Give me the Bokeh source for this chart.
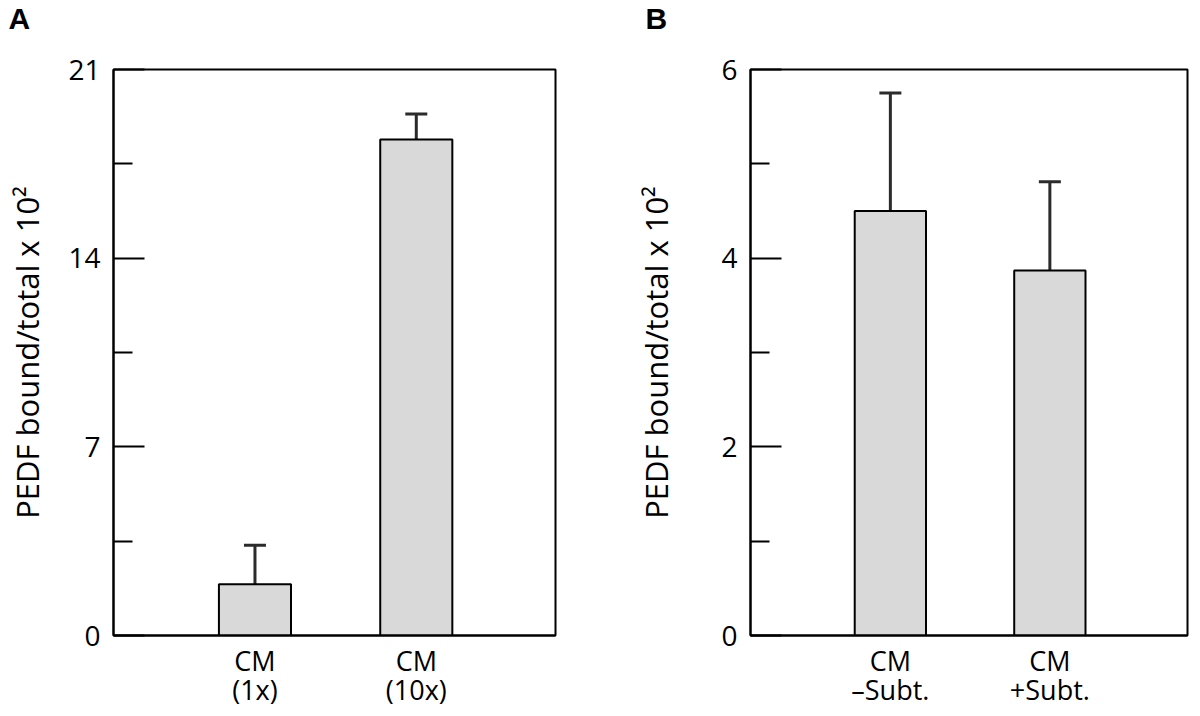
from bokeh.plotting import figure
from bokeh.layouts import row
from bokeh.models import ColumnDataSource, Whisker, TeeHead, FixedTicker, Range1d
from bokeh.embed import file_html
from bokeh.resources import INLINE

# Panel A data
a_labels = ["CM\n(1x)", "CM\n(10x)"]
a_values = [1.9, 18.4]
a_errors = [1.45, 0.95]
a_ticks = [0, 7, 14, 21]
a_minor = [3.5, 10.5, 17.5]

# Panel B data
b_labels = ["CM\n\u2013Subt.", "CM\n+Subt."]
b_values = [4.5, 3.87]
b_errors = [1.25, 0.94]
b_ticks = [0, 2, 4, 6]
b_minor = [1, 3, 5]

y_title = "PEDF bound/total x 10\u00b2"
FONT = "Open Sans"


def make_panel(letter, labels, values, errors, ticks, minor, fw, bl, br, standoff):
    xs = list(range(1, len(values) + 1))
    src = ColumnDataSource(dict(x=xs, top=values,
                                upper=[v + e for v, e in zip(values, errors)]))
    p = figure(frame_width=fw, frame_height=566, output_backend="svg", toolbar_location=None,
               x_range=Range1d(0.123, 2.863), y_range=Range1d(ticks[0], ticks[-1]),
               min_border_left=bl, min_border_right=br, min_border_top=69,
               min_border_bottom=10, title=letter + "\n")
    p.title.text_font = "Liberation Sans"
    p.title.text_font_size = "30px"
    p.title.text_font_style = "bold"
    p.title.text_color = "black"
    p.title.text_line_height = 1.0
    p.title.align = "left"
    p.title.vertical_align = "top"
    p.title.offset = -105
    p.title.standoff = 0
    p.grid.visible = False
    p.outline_line_color = "black"
    p.outline_line_width = 2
    p.outline_line_alpha = 1
    p.background_fill_color = "white"
    p.border_fill_color = "white"

    w = Whisker(base="x", lower="top", upper="upper", source=src,
                line_color="#2b2b2b", line_width=3,
                upper_head=TeeHead(size=22, line_color="#2b2b2b", line_width=3),
                lower_head=None, level="underlay")
    p.add_layout(w)
    p.vbar(x="x", top="top", bottom=0, width=0.447, source=src,
           fill_color="#d9d9d9", line_color="black", line_width=2)

    p.yaxis.ticker = FixedTicker(ticks=ticks, minor_ticks=minor)
    p.yaxis.major_tick_in = 31
    p.yaxis.major_tick_out = 0
    p.yaxis.minor_tick_in = 19
    p.yaxis.minor_tick_out = 0
    p.yaxis.major_tick_line_width = 2
    p.yaxis.minor_tick_line_width = 2
    p.yaxis.axis_line_width = 2
    p.yaxis.major_label_text_font = FONT
    p.yaxis.major_label_text_font_size = "28px"
    p.yaxis.major_label_text_color = "black"
    p.yaxis.major_label_standoff = 13
    p.yaxis.axis_label = y_title
    p.yaxis.axis_label_text_font = FONT
    p.yaxis.axis_label_text_font_size = "31px"
    p.yaxis.axis_label_text_font_style = "normal"
    p.yaxis.axis_label_text_color = "black"
    p.yaxis.axis_label_standoff = standoff

    p.xaxis.ticker = FixedTicker(ticks=xs)
    p.xaxis.major_label_overrides = {x: lab for x, lab in zip(xs, labels)}
    p.xaxis.major_tick_line_color = None
    p.xaxis.minor_tick_line_color = None
    p.xaxis.axis_line_width = 2
    p.xaxis.major_label_text_font = FONT
    p.xaxis.major_label_text_font_size = "27px"
    p.xaxis.major_label_text_color = "black"
    p.xaxis.major_label_text_line_height = 0.8
    p.xaxis.major_label_standoff = 0
    return p


pa = make_panel("A", a_labels, a_values, a_errors, a_ticks, a_minor, 442, 113, 73, 17)
pb = make_panel("B", b_labels, b_values, b_errors, b_ticks, b_minor, 437, 122, 5, 41)

layout = row(pa, pb)
open("out.html", "w").write(file_html(layout, INLINE))
